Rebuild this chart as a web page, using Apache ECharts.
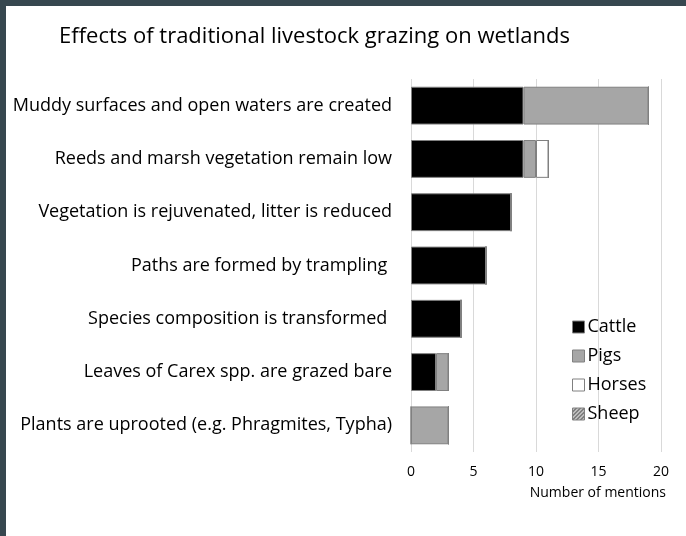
<!DOCTYPE html>
<html><head><meta charset="utf-8">
<script src="https://cdn.jsdelivr.net/npm/echarts@6/dist/echarts.min.js"></script>
<style>
html,body{margin:0;padding:0;width:686px;height:536px;background:#37474f;overflow:hidden;}
#c{position:absolute;left:6px;top:6px;width:680px;height:530px;background:#fff;}
</style></head>
<body><div id="c"></div>
<script>
const categories = [
  "Muddy surfaces and open waters are created",
  "Reeds and marsh vegetation remain low",
  "Vegetation is rejuvenated, litter is reduced",
  "Paths are formed by trampling ",
  "Species composition is transformed ",
  "Leaves of Carex spp. are grazed bare",
  "Plants are uprooted (e.g. Phragmites, Typha)"
];
const cattle = [9, 9, 8, 6, 4, 2, 0];
const pigs   = [10, 1, 0, 0, 0, 1, 3];
const horses = [0, 1, 0, 0, 0, 0, 0];
const sheep  = [0, 0, 0, 0, 0, 0, 0];
const xTicks = [0, 5, 10, 15, 20];

const FONT = '"Open Sans"';
const cv = document.createElement('canvas');
cv.width = 4; cv.height = 4;
const g = cv.getContext('2d');
g.fillStyle = '#bdbdbd'; g.fillRect(0,0,4,4);
g.strokeStyle = '#444'; g.lineWidth = 1;
g.beginPath(); g.moveTo(0,4); g.lineTo(4,0); g.stroke();

const chart = echarts.init(document.getElementById('c'));
const border = {borderColor:'#808080', borderWidth:1};
function s(name, data, color){
  return {name, type:'bar', stack:'a', data, barCategoryGap:'29%',
    itemStyle:Object.assign({color}, border), emphasis:{disabled:true}};
}
chart.setOption({
  animation:false,
  title:{text:'Effects of traditional livestock grazing on wetlands', left:48, top:15,
    textStyle:{fontFamily:FONT, fontWeight:'normal', fontSize:22, color:'#000'}},
  grid:{left:405, top:73, width:250, height:373},
  legend:{orient:'vertical', left:561, top:307, itemWidth:12, itemHeight:12, itemGap:11,
    icon:'rect', selectedMode:false,
    itemStyle:{borderColor:'#808080', borderWidth:1},
    textStyle:{fontFamily:FONT, fontSize:18, color:'#000', padding:[0,0,0,-2]},
    data:['Cattle','Pigs','Horses','Sheep']},
  xAxis:{type:'value', min:xTicks[0], max:xTicks[xTicks.length-1], interval:5,
    axisLine:{show:false}, axisTick:{show:false},
    splitLine:{lineStyle:{color:'#d9d9d9'}},
    axisLabel:{fontFamily:FONT, fontSize:14, color:'#000', margin:13}},
  yAxis:{type:'category', inverse:true, data:categories,
    axisLine:{show:false}, axisTick:{show:false},
    axisLabel:{fontFamily:FONT, fontSize:18, color:'#000', margin:19, padding:[3,0,0,0]}},
  graphic:[{type:'text', right:20, top:480,
    style:{text:'Number of mentions', font:'14px '+FONT, fill:'#000'}}],
  series:[
    s('Cattle', cattle, '#000'),
    s('Pigs', pigs, '#a6a6a6'),
    s('Horses', horses, '#fff'),
    s('Sheep', sheep, {image:cv, repeat:'repeat'})
  ]
});
</script></body></html>
